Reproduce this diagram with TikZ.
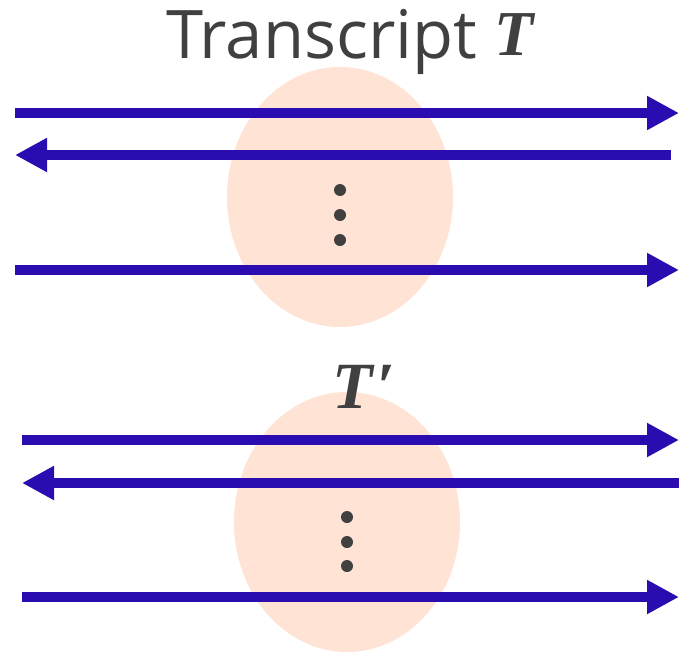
\documentclass[tikz,border=0pt]{standalone}
\usepackage{fontspec}
\newfontfamily\osans{Open Sans}
\newfontfamily\lsbi{Liberation Serif}
\usetikzlibrary{arrows.meta,shapes.geometric}
\definecolor{arrowblue}{RGB}{42,12,176}
\definecolor{peach}{RGB}{255,228,213}
\definecolor{txtgray}{RGB}{64,64,64}
\tikzset{
  flow/.style={draw=arrowblue, line width=10pt, -{Triangle[length=32pt,width=32pt]}},
  blob/.style={ellipse, fill=peach, draw=none, minimum width=226pt, minimum height=260pt, inner sep=0pt},
  dot/.style={circle, fill=txtgray, minimum size=12pt, inner sep=0pt},
  lbl/.style={text=txtgray, inner sep=0pt},
}
\begin{document}
\begin{tikzpicture}[x=1pt,y=-1pt]
\useasboundingbox (0,0) rectangle (679,653);
% top group
\node[blob] (e1) at (340,197) {};
\node[lbl, anchor=base west] (title) at (166,58) {\fontsize{67}{80}\selectfont\osans Transcript {\lsbi\bfseries\itshape\fontsize{64}{70}\selectfont\raisebox{3pt}{T}}};
\coordinate (a1s) at (15,113); \coordinate (a1e) at (679,113);
\coordinate (a2s) at (671,155); \coordinate (a2e) at (15,155);
\coordinate (a3s) at (15,270); \coordinate (a3e) at (679,270);
\draw[flow] (a1s) -- (a1e);
\draw[flow] (a2s) -- (a2e);
\draw[flow] (a3s) -- (a3e);
\node[dot] (d1) at (340,190) {};
\node[dot] (d2) at (340,215) {};
\node[dot] (d3) at (340,240) {};
% bottom group
\node[blob] (e2) at (347,522) {};
\node[lbl, anchor=base west] (tp) at (332,408) {\lsbi\bfseries\itshape\fontsize{66}{70}\selectfont T\kern4pt′};
\coordinate (b1s) at (22,440); \coordinate (b1e) at (679,440);
\coordinate (b2s) at (679,483); \coordinate (b2e) at (22,483);
\coordinate (b3s) at (22,597); \coordinate (b3e) at (679,597);
\draw[flow] (b1s) -- (b1e);
\draw[flow] (b2s) -- (b2e);
\draw[flow] (b3s) -- (b3e);
\node[dot] (f1) at (347,517) {};
\node[dot] (f2) at (347,542) {};
\node[dot] (f3) at (347,566) {};
\end{tikzpicture}
\end{document}
